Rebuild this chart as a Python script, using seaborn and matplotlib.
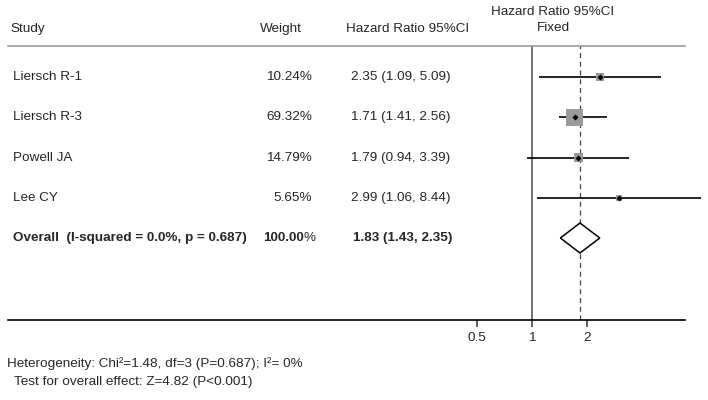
import numpy as np
import pandas as pd
import matplotlib
matplotlib.use("Agg")
import matplotlib.pyplot as plt
import seaborn as sns

# -----------------------------
# Data
# -----------------------------
studies = ["Liersch R-1", "Liersch R-3", "Powell JA", "Lee CY"]
weights = [10.24, 69.32, 14.79, 5.65]
hr = [2.35, 1.71, 1.79, 2.99]
ci_low = [1.09, 1.41, 0.94, 1.06]
ci_high = [5.09, 2.56, 3.39, 8.44]

overall_label = "Overall  (I-squared = 0.0%, p = 0.687)"
overall_weight = 100.00
overall_hr = 1.83
overall_low = 1.43
overall_high = 2.35

x_ticks = [0.5, 1, 2]
hetero_text = "Heterogeneity: Chi\u00b2=1.48, df=3 (P=0.687); I\u00b2= 0%"
effect_text = "Test for overall effect: Z=4.82 (P<0.001)"

df = pd.DataFrame({
    "Study": studies,
    "Weight": weights,
    "HR": hr,
    "Low": ci_low,
    "High": ci_high,
    "Row": np.arange(1, len(studies) + 1),
})

# -----------------------------
# Style
# -----------------------------
sns.set_style("white")
plt.rcParams["font.family"] = ["Liberation Sans", "DejaVu Sans"]
FS = 9.7

W, H = 708, 400
fig = plt.figure(figsize=(W / 100, H / 100), dpi=100)

# axes spans the whole table width; x in log2 space (1 -> px 532, 55 px per doubling)
x0, x1, x_one, per2 = 8, 685, 532, 55
y_top, y_bot = 46, 320
ax = fig.add_axes([x0 / W, 1 - y_bot / H, (x1 - x0) / W, (y_bot - y_top) / H])
ax.set_xscale("log", base=2)
ax.set_xlim(2 ** ((x0 - x_one) / per2), 2 ** ((x1 - x_one) / per2))
row_px = 40.25
ax.set_ylim(1 + (y_bot - 77) / row_px, 1 - (77 - y_top) / row_px)

# -----------------------------
# Forest marks
# -----------------------------
ax.axvline(1, color="#666666", lw=1.3, zorder=1)
ax.axvline(overall_hr, color="#444444", lw=0.9, ls=(0, (4, 3)), zorder=1)

ax.hlines(df["Row"], df["Low"], df["High"], color="black", lw=1.2,
          clip_on=False, zorder=2)

# box side (px) grows with sqrt(weight); marker area in pt^2
box_area = {w: ((1.4 + 1.93 * np.sqrt(w)) * 0.72) ** 2 for w in weights}
sns.scatterplot(data=df, x="HR", y="Row", size="Weight", sizes=box_area,
                marker="s", color="#9a9a9a", edgecolor="none",
                legend=False, ax=ax, zorder=3)
sns.scatterplot(data=df, x="HR", y="Row", marker="D", s=8,
                color="black", edgecolor="black", legend=False, ax=ax, zorder=4)

y_ov = len(studies) + 1
dh = 15 / row_px
ax.fill([overall_low, overall_hr, overall_high, overall_hr],
        [y_ov, y_ov - dh, y_ov, y_ov + dh],
        facecolor="white", edgecolor="black", lw=1.1, zorder=3)

# -----------------------------
# Axis styling
# -----------------------------
for side in ["left", "right"]:
    ax.spines[side].set_visible(False)
ax.spines["top"].set_color("#999999")
ax.spines["top"].set_linewidth(1.2)
ax.spines["bottom"].set_color("black")
ax.spines["bottom"].set_linewidth(1.2)
ax.set_xticks(x_ticks)
ax.set_xticklabels([f"{t:g}" for t in x_ticks])
ax.xaxis.set_minor_locator(matplotlib.ticker.NullLocator())
ax.tick_params(axis="x", direction="out", length=5, width=1.2,
               color="#444444", labelsize=FS, pad=3.5, bottom=True)
ax.set_yticks([])
ax.set_xlabel("")
ax.set_ylabel("")

# -----------------------------
# Table text
# -----------------------------
def txt(x, y, s, **kw):
    fig.text(x / W, 1 - y / H, s, fontsize=FS, va="center", **kw)

txt(10, 29, "Study")
txt(260, 29, "Weight")
txt(346, 29, "Hazard Ratio 95%CI")
txt(553, 12, "Hazard Ratio 95%CI", ha="center")
txt(553, 28, "Fixed", ha="center")

for i, r in df.iterrows():
    yy = 77 + i * row_px
    txt(13, yy, r["Study"])
    txt(312, yy, f"{r['Weight']:.2f}%", ha="right")
    txt(351, yy, f"{r['HR']:.2f} ({r['Low']:.2f}, {r['High']:.2f})")

yy = 77 + len(studies) * row_px
txt(13, yy, overall_label, fontweight="bold")
txt(303.5, yy, f"{overall_weight:.2f}", ha="right", fontweight="bold")
txt(303.6, yy, "%", ha="left")
txt(353, yy, f"{overall_hr:.2f} ({overall_low:.2f}, {overall_high:.2f})",
    fontweight="bold")

txt(7, 364, hetero_text)
txt(14, 382, effect_text)

fig.savefig("out.png", dpi=100)
